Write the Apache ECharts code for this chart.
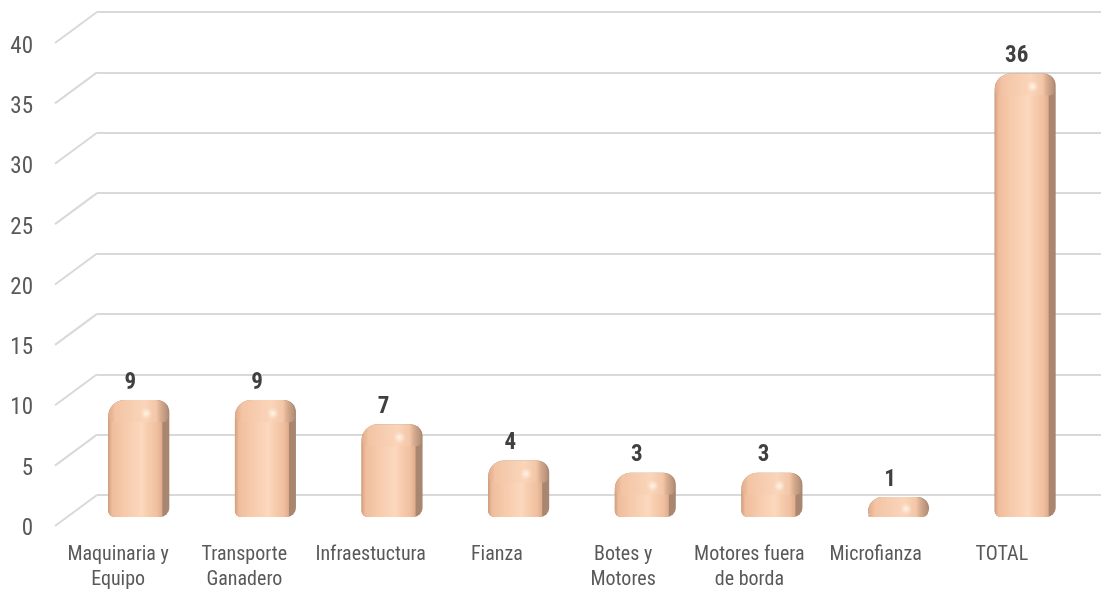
<!DOCTYPE html>
<html>
<head>
<meta charset="utf-8">
<script src="https://cdn.jsdelivr.net/npm/echarts@6/dist/echarts.min.js"></script>
<style>
html,body{margin:0;padding:0;background:#fff;}
#chart{width:1101px;height:591px;}
</style>
</head>
<body>
<div id="chart"></div>
<script>
const categories = ["Maquinaria y\nEquipo", "Transporte\nGanadero", "Infraestuctura", "Fianza", "Botes y\nMotores", "Motores fuera\nde borda", "Microfianza", "TOTAL"];
const values = [9, 9, 7, 4, 3, 3, 1, 36];
const yTicks = [0, 5, 10, 15, 20, 25, 30, 35, 40];
const yMin = 0, yMax = 40, yStep = 5;

const FONT = "'Roboto Condensed', 'Liberation Sans Narrow', 'Liberation Sans', sans-serif";
const chart = echarts.init(document.getElementById('chart'), null, {renderer: 'canvas'});

function renderBar(params, api) {
  const idx = api.value(0);
  const v = api.value(1);
  const base = api.coord([idx, 0]);
  const topP = api.coord([idx, v]);
  const cx = base[0];
  const w = 54, d = 7;
  const l = cx - w / 2, r = cx + w / 2;
  const bottom = base[1];
  const yTop = topP[1];
  const capTop = yTop - 8;
  const frontTop = Math.min(bottom, yTop + 12);
  const capH = Math.max(4, Math.min(bottom - capTop, frontTop - capTop + 2));
  const children = [];
  children.push({
    type: 'rect',
    shape: {x: l, y: capTop, width: w + d, height: bottom - capTop, r: [16, 12, 9, 6]},
    style: {fill: '#a8866f'}
  });
  if (bottom - frontTop > 0) {
    children.push({
      type: 'rect',
      shape: {x: l, y: frontTop - 2, width: w, height: bottom - frontTop + 2, r: [0, 0, 0, 6]},
      style: {fill: new echarts.graphic.LinearGradient(0, 0, 1, 0, [
        {offset: 0, color: '#d39d7c'},
        {offset: 0.07, color: '#efbd9c'},
        {offset: 0.3, color: '#f6caab'},
        {offset: 0.62, color: '#fcd8be'},
        {offset: 0.72, color: '#f8ceb0'},
        {offset: 0.9, color: '#f0c0a0'},
        {offset: 1, color: '#dfac8c'}
      ])}
    });
  }
  children.push({
    type: 'rect',
    shape: {x: l, y: capTop, width: w + d - 1, height: capH, r: [16, 12, 5, 6]},
    style: {fill: new echarts.graphic.LinearGradient(0, 0, 1, 0, [
      {offset: 0, color: '#e0aa89'},
      {offset: 0.12, color: '#f3c4a5'},
      {offset: 0.6, color: '#fad5ba'},
      {offset: 0.8, color: '#f3c6a7'},
      {offset: 0.88, color: '#d5a98c'},
      {offset: 1, color: '#b08d76'}
    ])}
  });
  children.push({
    type: 'circle',
    shape: {cx: r - 16, cy: capTop + Math.min(15, capH * 0.6), r: 6},
    style: {fill: new echarts.graphic.RadialGradient(0.5, 0.5, 0.5, [
      {offset: 0, color: 'rgba(255,250,240,0.85)'},
      {offset: 1, color: 'rgba(255,240,225,0)'}
    ])}
  });
  children.push({
    type: 'text',
    style: {
      x: cx - 5, y: capTop - 17,
      text: String(v),
      font: 'bold 23px ' + FONT,
      fill: '#404040',
      align: 'center', verticalAlign: 'middle'
    }
  });
  return {type: 'group', children: children};
}

function renderDiag(params, api) {
  const v = api.value(1);
  const p = api.coord([0, v]);
  return {
    type: 'line',
    shape: {x1: p[0] - 42, y1: p[1] + 31, x2: p[0], y2: p[1]},
    style: {stroke: '#d9d9d9', lineWidth: 2}
  };
}

const option = {
  animation: false,
  backgroundColor: '#ffffff',
  grid: [
    {left: 97, right: 0, top: 12, bottom: 96, outerBoundsMode: 'none', containLabel: false},
    {left: 55, right: 36, top: 47, bottom: 62, outerBoundsMode: 'none', containLabel: false},
    {left: 72, right: 16, top: 33, bottom: 74, outerBoundsMode: 'none', containLabel: false}
  ],
  xAxis: [
    {gridIndex: 0, type: 'value', min: 0, max: 1, show: false},
    {gridIndex: 1, type: 'category', data: categories,
      axisLine: {show: false}, axisTick: {show: false},
      axisLabel: {interval: 0, margin: 13, color: '#595959', fontFamily: FONT, fontSize: 20, lineHeight: 25}},
    {gridIndex: 2, type: 'category', data: categories, show: false}
  ],
  yAxis: [
    {gridIndex: 0, type: 'value', min: yMin, max: yMax, interval: yStep,
      axisLine: {show: false}, axisTick: {show: false}, axisLabel: {show: false},
      splitLine: {show: true, lineStyle: {color: '#d9d9d9', width: 2}}},
    {gridIndex: 1, type: 'value', min: yMin, max: yMax, interval: yStep,
      axisLine: {show: false}, axisTick: {show: false}, splitLine: {show: false},
      axisLabel: {margin: 22, color: '#595959', fontFamily: FONT, fontSize: 23}},
    {gridIndex: 2, type: 'value', min: yMin, max: yMax, show: false}
  ],
  series: [
    {type: 'custom', xAxisIndex: 0, yAxisIndex: 0, renderItem: renderDiag,
      data: yTicks.map(t => [0, t]), silent: true, z: 1},
    {type: 'custom', xAxisIndex: 2, yAxisIndex: 2, renderItem: renderBar,
      data: values.map((v, i) => [i, v]), z: 3}
  ]
};
chart.setOption(option);
</script>
</body>
</html>
